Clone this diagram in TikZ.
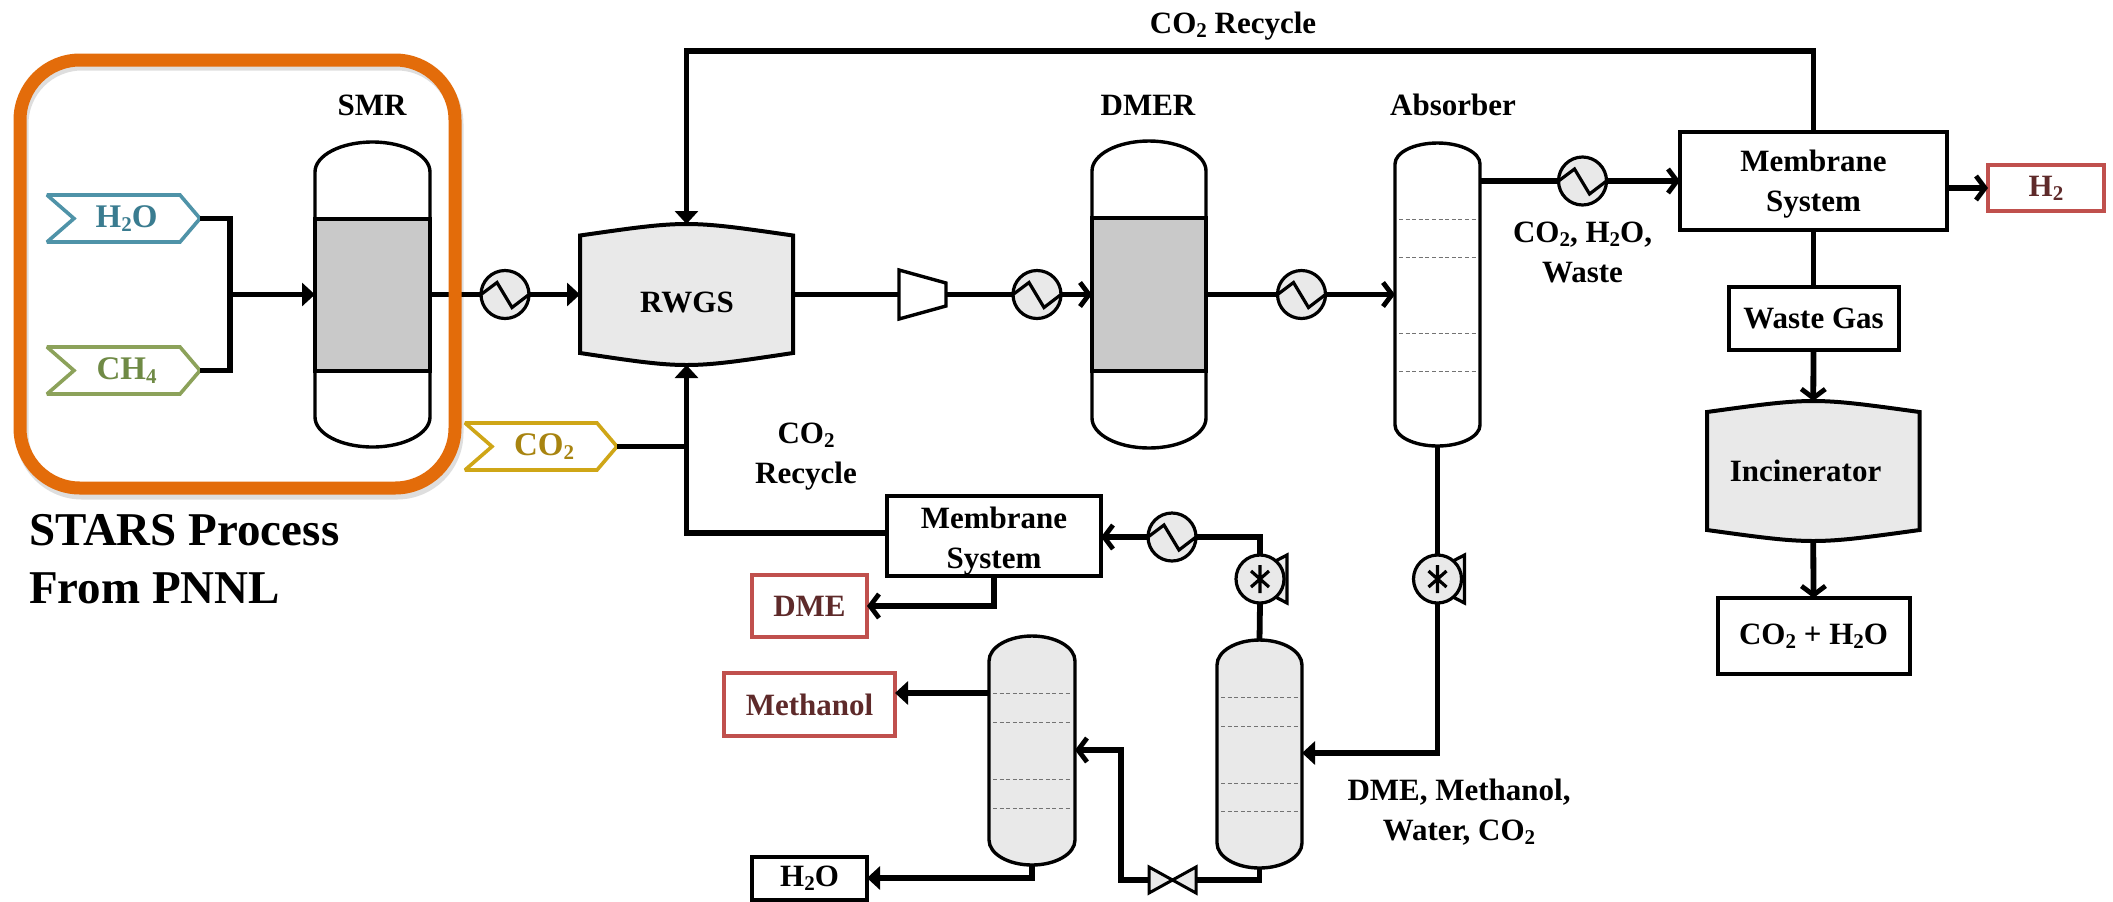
\documentclass[tikz,border=0pt]{standalone}
\usepackage{fontspec}
\setmainfont{Liberation Serif}
\usetikzlibrary{arrows.meta,calc}
\definecolor{vfill}{HTML}{E9E9E9}
\definecolor{bandfill}{HTML}{C9C9C9}
\definecolor{orangebox}{HTML}{E36C0A}
\definecolor{redbox}{HTML}{C0504D}
\definecolor{redtext}{HTML}{5E2A2A}
\definecolor{tealline}{HTML}{4F93A8}
\definecolor{tealtext}{HTML}{3A7C90}
\definecolor{oliveline}{HTML}{8CA25A}
\definecolor{olivetext}{HTML}{6F8A45}
\definecolor{goldline}{HTML}{CFA617}
\definecolor{goldtext}{HTML}{A88410}
\newcommand\sbs[1]{\raisebox{-2pt}{\fontsize{10.5pt}{12pt}\selectfont #1}}
\tikzset{
  anch/.style={rectangle,inner sep=0pt,outer sep=0pt},
  lbl/.style={font=\bfseries\fontsize{15.5pt}{20pt}\selectfont,align=center,inner sep=0pt,outer sep=0pt},
  boxn/.style={lbl,rectangle,draw=black,line width=2pt,fill=white},
  redn/.style={boxn,draw=redbox,text=redtext},
  vline/.style={line width=1.7pt,draw=black},
  traydash/.style={line width=0.5pt,draw=black!55,dash pattern=on 2pt off 1.3pt},
  flow/.style={line width=2.9pt},
  tri/.style={flow,-{Triangle[length=6.5pt,width=11.5pt]}},
  barb/.style={flow,-{Straight Barb[length=4.5pt,width=12pt,line width=2.4pt]}},
  size/.style n args={2}{minimum width={(#1)*0.5pt},minimum height={(#2)*0.5pt}}
}
% name, cx, top, bottom, half width, cap height, fill
\newcommand\vessel[7]{%
  \node[anch,size={2*#5}{#4-#3}] (#1) at (#2,{(#3+#4)/2}) {};
  \draw[vline,fill=#7] (#2-#5,#3+#6) arc[start angle=180,end angle=0,x radius={#5*0.5pt},y radius={#6*0.5pt}]
    -- (#2+#5,#4-#6) arc[start angle=0,end angle=-180,x radius={#5*0.5pt},y radius={#6*0.5pt}] -- cycle;}
% name, x0, x1, top corner, top mid, bottom corner, bottom mid
\newcommand\drum[7]{%
  \node[anch,size={#3-#2}{#7-#5}] (#1) at ({(#2+#3)/2},{(#5+#7)/2}) {};
  \draw[line width=2pt,fill=vfill] (#2,#4) .. controls ({(#2+#3)/2},{#5-(#4-#5)/3}) .. (#3,#4)
    -- (#3,#6) .. controls ({(#2+#3)/2},{#7-(#6-#7)/3}) .. (#2,#6) -- cycle;}
% name, cx, cy
\newcommand\hexch[3]{%
  \node[anch,circle,minimum size=24pt,draw=black,line width=1.6pt,fill=vfill] (#1) at (#2,#3) {};
  \draw[line width=1.6pt,line join=miter] (#2-24,#3) -- (#2-8,#3-12) -- (#2+7,#3+13) -- (#2+24,#3);}
% name, cx, cy
\newcommand\pumpn[3]{%
  \draw[line width=1.6pt,fill=vfill] (#2,#3-10) -- (#2+27,#3-24) -- (#2+27,#3+24) -- (#2,#3+10) -- cycle;
  \node[anch,circle,minimum size=24pt,draw=black,line width=1.6pt,fill=vfill] (#1) at (#2,#3) {};
  \draw[line width=1.6pt] (#2,#3-14) -- (#2,#3+14) (#2-9,#3-8) -- (#2+9,#3+8) (#2-9,#3+8) -- (#2+9,#3-8);}
% name, x0, x1, ytop, ybottom, line colour, text colour, text
\newcommand\tagn[8]{%
  \draw[line width=1.8pt,draw=#6,fill=white,line join=miter,miter limit=2] (#2,#4) -- (#3-20,#4) -- (#3,{(#4+#5)/2}) -- (#3-20,#5) -- (#2,#5) -- (#2+27,{(#4+#5)/2}) -- cycle;
  \node[lbl,anch,text=#7,font=\bfseries\fontsize{16.5pt}{20pt}\selectfont,size={#3-#2}{#5-#4}] (#1) at ({(#2+#3)/2},{(#4+#5)/2}) {\hspace*{3pt}#8};}
\begin{document}
\begin{tikzpicture}[x=0.5pt,y=-0.5pt]
\useasboundingbox[fill=white] (0,0) rectangle (2113,901);

% shadow of the orange frame
\draw[line width=6.5pt,black,opacity=0.13,rounded corners=30pt] (22,64) rectangle (457,493);

% feeds
\tagn{tagh}{47}{200}{195}{242}{tealline}{tealtext}{H\sbs{2}O}
\tagn{tagc}{47}{200}{347}{394}{oliveline}{olivetext}{CH\sbs{4}}
\tagn{tagd}{465}{617}{423}{470}{goldline}{goldtext}{CO\sbs{2}}

% reactors
\vessel{smr}{372.5}{142}{447}{57.5}{30}{white}
\draw[line width=1.7pt,fill=bandfill] (315,219) rectangle (430,371);
\vessel{dmer}{1149}{141}{448}{57}{30}{white}
\draw[line width=1.7pt,fill=bandfill] (1092,218) rectangle (1206,371);
\drum{rwgs}{580}{793}{235.5}{224}{353}{365}
\drum{incin}{1707}{1919.5}{412}{401}{530}{541}

% columns
\vessel{abs}{1437.5}{143}{446}{42.5}{21}{white}
\foreach \yy in {219,257,333,371} \draw[traydash] (1399,\yy) -- (1476,\yy);
\vessel{colr}{1259.5}{640}{868}{42.5}{25}{vfill}
\foreach \yy in {697,726,783,811} \draw[traydash] (1221,\yy) -- (1298,\yy);
\vessel{coll}{1032}{636}{865}{43}{25}{vfill}
\foreach \yy in {693,722,779,808} \draw[traydash] (993,\yy) -- (1071,\yy);

% compressor
\node[anch,size={47}{49}] (comp) at (922.5,294.5) {};
\draw[line width=1.7pt,fill=white] (899,270) -- (946,283) -- (946,306) -- (899,319) -- cycle;

% exchangers and pumps
\hexch{hxa}{505}{294.5}
\hexch{hxb}{1037}{294.5}
\hexch{hxc}{1301.5}{294.5}
\hexch{hxd}{1582.5}{181}
\hexch{hxe}{1172}{537}
\pumpn{pumpa}{1260}{579}
\pumpn{pumpb}{1437.5}{579}

% valve
\node[anch,size={47}{26}] (valve) at (1172.5,880) {};
\draw[line width=1.5pt,fill=vfill] (1149,867) -- (1196,893) -- (1196,867) -- (1149,893) -- cycle;

% boxes
\node[boxn,size={267}{98}] (mema) at (1813.5,181) {};
\node[lbl] (lmema) at (1813.5,184) {Membrane\\System};
\node[boxn,size={214}{80}] (memb) at (994,536) {};
\node[lbl] (lmemb) at (994,541) {Membrane\\System};
\node[boxn,size={170}{63}] (waste) at (1813.5,318.5) {Waste Gas};
\node[boxn,size={192}{76}] (prod) at (1813.5,636) {CO\sbs{2} + H\sbs{2}O};
\node[boxn,size={115}{43}] (water) at (809.5,878) {H\sbs{2}O};
\node[redn,size={116}{46}] (hyd) at (2046,188) {\raisebox{-1pt}{H\sbs{2}}};
\node[redn,size={115}{62}] (dme) at (809.5,606) {DME};
\node[redn,size={171}{63}] (meth) at (809.5,704.5) {Methanol};

% labels
\node[lbl] (lsmr) at (372,105) {SMR};
\node[lbl] (ldmer) at (1148,105) {DMER};
\node[lbl] (labs) at (1453,105) {Absorber};
\node[lbl] (lrwgs) at (687,302) {RWGS};
\node[lbl] (linc) at (1805.5,471) {Incinerator};
\node[lbl] (ltop) at (1233,26) {CO\sbs{2} Recycle};
\node[lbl] (lrec) at (806,457) {CO\sbs{2}\\Recycle};
\node[lbl] (lco) at (1582.5,252) {CO\sbs{2}, H\sbs{2}O,\\Waste};
\node[lbl] (ldme) at (1459,812) {DME, Methanol,\\Water, CO\sbs{2}};
\node[lbl,align=left,anchor=north west,font=\bfseries\fontsize{23.5pt}{29pt}\selectfont] (lstars) at (29,514) {STARS Process\\From PNNL};

% junction and bend points
\coordinate (jfeed) at (230,294.5);
\coordinate (jtop) at (686.5,51);
\coordinate (jco) at (686.5,446.5);
\coordinate (jrec) at (686.5,533);
\coordinate (memout) at (887,533);
\coordinate (hxein) at (1101,537);
\coordinate (absin) at (1395,294.5);
\coordinate (absout) at (1480,181);
\coordinate (memin) at (1680,181);
\coordinate (methout) at (989,693);
\coordinate (collin) at (1075,750);
\coordinate (colrin) at (1302,753);
\coordinate (hydout) at (1947,188);

% connectors
\draw[flow] (tagh.east) -| (jfeed);
\draw[flow] (tagc.east) -| (jfeed);
\draw[tri] (jfeed) -- (smr.west);
\draw[flow] (smr.east) -- (hxa.west);
\draw[tri] (hxa.east) -- (rwgs.west);
\draw[tri] (mema.north) -- (mema.north |- jtop) -- (jtop) -- (rwgs.north);
\draw[flow] (tagd.east) -- (jco);
\draw[tri] (memout) -- (jrec) -- (rwgs.south);
\draw[flow] (rwgs.east) -- (comp.west);
\draw[flow] (comp.east) -- (hxb.west);
\draw[barb] (hxb.east) -- (dmer.west);
\draw[flow] (dmer.east) -- (hxc.west);
\draw[barb] (hxc.east) -- (absin);
\draw[flow] (absout) -- (hxd.west);
\draw[barb] (hxd.east) -- (memin);
\draw[barb] (hydout) -- (hyd.west |- hydout);
\draw[flow] (mema.south) -- (waste.north);
\draw[barb] (waste.south) -- (incin.north);
\draw[barb] (incin.south) -- (prod.north);
\draw[flow] (abs.south) -- (pumpb.north);
\draw[tri] (pumpb.south) -- (pumpb.south |- colrin) -- (colrin);
\draw[flow] (colr.north) -- (pumpa.south);
\draw[flow] (pumpa.north) -- (pumpa.north |- hxe.east) -- (hxe.east);
\draw[barb] (hxe.west) -- (hxein);
\draw[barb] (memb.south) -- (memb.south |- dme.east) -- (dme.east);
\draw[tri] (methout) -- (methout -| meth.east);
\draw[flow] (colr.south) -- (colr.south |- valve.east) -- (valve.east);
\coordinate (jval) at (1121,880);
\draw[barb] (valve.west) -- (jval) -- (jval |- collin) -- (collin);
\draw[tri] (coll.south) -- (coll.south |- water.east) -- (water.east);

% orange frame
\draw[line width=6.5pt,orangebox,rounded corners=30pt] (20,60) rectangle (455,488);
\end{tikzpicture}
\end{document}
